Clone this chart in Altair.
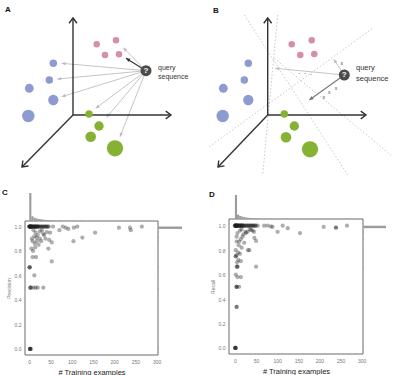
import math
import altair as alt
import pandas as pd

FONT = "Liberation Sans"
PINK, BLUE, GREEN, QUERY = "#d68fa8", "#8d9bd1", "#86b234", "#4b4b4b"

# ---------------- Panel A schematic (panel units, y grows downward) ----------------
A_origin = [73, 115]
A_axis_to_x = [73, 171, 22]
A_axis_to_y = [18, 115, 167]
A_pink_x = [96.7, 116, 105, 119]
A_pink_y = [44.3, 40.3, 55, 54.3]
A_pink_r = [3.7, 3.7, 3.7, 3.7]
A_blue_x = [53.3, 49.3, 29.3, 53.3, 28.3]
A_blue_y = [63.3, 80, 88.3, 100, 116]
A_blue_r = [4.2, 4.2, 5, 5.8, 7]
A_green_x = [89, 99, 90.7, 115]
A_green_y = [114, 126, 136.7, 148.3]
A_green_r = [4.2, 5.3, 6, 9.2]
A_query = [146, 70.7]
A_light_tip_x = [61.7, 57.3, 61.7, 123.3, 95.7, 106.7, 120]
A_light_tip_y = [63.3, 79, 96.7, 47.7, 108.3, 117.3, 136.7]
A_dark_tip_x = [126]
A_dark_tip_y = [58.3]
A_qtext = [158, 68, 76.5]

# ---------------- Panel B schematic ----------------
B_origin = [71.7, 115]
B_axis_to_x = [71.7, 170, 22]
B_axis_to_y = [18, 115, 167]
B_pink_x = [95.7, 115.7, 104.3, 118.3]
B_pink_y = [44.3, 40.3, 55, 54]
B_blue_x = [52.3, 48.3, 27.3, 52.3, 26.7]
B_blue_y = [63.3, 80, 88.3, 100, 116]
B_green_x = [88.3, 98.3, 90, 114]
B_green_y = [114, 126, 137.3, 149.3]
B_query = [148.3, 75]
B_light_tip_x = [79.3, 137.7]
B_light_tip_y = [68.3, 59.3]
B_dark_tip_x = [113.3]
B_dark_tip_y = [100]
B_bound_x1 = [48.3, 81.7, 13.3, 78.3]
B_bound_y1 = [15, 15, 146.7, 58.3]
B_bound_x2 = [151.7, 66.7, 176.7, 196]
B_bound_y2 = [175, 175, 28.3, 156]
B_xmark_x = [145.7, 127.7, 133.3, 140]
B_xmark_y = [63.3, 96.7, 92.3, 88.3]
B_dash_x = [103.3, 109.3, 115]
B_dash_y = [72.7, 73.3, 74]
B_qtext = [160, 68.3, 79]

# ---------------- Panel C scatter (precision) ----------------
C_row_x = [0, 0, 1, 1, 2, 2, 3, 3, 4, 4, 5, 5, 6, 7, 8, 9, 10, 11, 12, 13, 14, 15, 16, 17,
           18, 19, 20, 21, 22, 24, 26, 28, 30, 32, 34, 36, 38, 40, 42, 44, 46]
C_hi_x = [56, 79, 86, 92, 105, 113, 71, 104, 125, 155, 211, 237, 239, 265, 53]
C_hi_y = [1.0, 1.0, 0.99, 0.98, 0.99, 1.0, 0.97, 0.88, 0.91, 0.95, 0.99, 0.99, 0.97, 1.0, 0.715]
C_mid_x = [33, 41, 49, 45, 53, 47, 25, 17, 13, 9, 5, 20, 15, 10, 25, 30, 35, 18, 12, 8, 22, 28, 6, 38, 14]
C_mid_y = [0.94, 0.955, 0.95, 0.82, 0.87, 0.89, 0.90, 0.91, 0.86, 0.80, 0.82, 0.93, 0.95, 0.97, 0.96,
           0.97, 0.93, 0.88, 0.92, 0.88, 0.85, 0.88, 0.90, 0.90, 0.83]
C_low_x = [8, 16, 1, 1, 1, 12, 3, 3, 3, 10, 15, 20, 33, 2, 2, 2, 2, 4]
C_low_y = [0.75, 0.75, 0.667, 0.667, 0.667, 0.60, 0.50, 0.50, 0.50, 0.50, 0.50, 0.50, 0.50,
           0.0, 0.0, 0.0, 0.0, 0.0]
C_top_start = [0, 5, 10, 15, 20, 25, 30, 35, 40, 45, 50, 55, 70, 85, 100, 120, 150, 210, 235, 260]
C_top_count = [100, 17, 12, 9, 7, 6, 5, 4, 3.5, 3, 2.5, 2, 1.5, 1, 1, 1, 1, 1, 1, 1]
C_right_start = [0.0, 0.48, 0.58, 0.66, 0.74, 0.80, 0.86, 0.90, 0.94, 0.98]
C_right_count = [2, 3, 1, 2, 1, 1, 2, 2, 3, 100]

# ---------------- Panel D scatter (recall) ----------------
D_row_x = [0, 0, 1, 1, 2, 2, 3, 3, 4, 4, 5, 5, 6, 7, 8, 9, 10, 11, 12, 13, 14, 15, 16, 17,
           18, 19, 20, 22, 24, 26, 28, 30, 32, 34, 36, 38, 40, 42, 44, 46, 48, 50]
D_hi_x = [54, 69, 77, 85, 89, 101, 113, 125, 154, 210, 239, 239, 265]
D_hi_y = [1.0, 1.0, 1.0, 0.995, 0.99, 0.95, 1.0, 0.98, 0.94, 0.99, 0.985, 0.985, 1.0]
D_mid_x = [50, 46, 38, 30, 34, 42, 45, 35, 26, 31, 4, 4, 9, 10, 14, 18, 6, 20, 25, 12, 16, 22, 8, 12, 16, 2]
D_mid_y = [0.875, 0.90, 0.965, 0.95, 0.80, 0.96, 0.95, 0.97, 0.94, 0.80, 0.91, 0.87, 0.84, 0.87,
           0.89, 0.91, 0.94, 0.93, 0.95, 0.96, 0.97, 0.86, 0.78, 0.77, 0.82, 0.80]
D_low_x = [50, 14, 2, 2, 5, 8, 4, 4, 6, 6, 2, 14, 6, 4, 4, 4, 10, 4, 4, 1, 1, 1, 1, 2]
D_low_y = [0.665, 0.71, 0.75, 0.75, 0.70, 0.72, 0.76, 0.665, 0.665, 0.665, 0.60, 0.58, 0.58,
           0.50, 0.50, 0.50, 0.50, 0.335, 0.335, 0.0, 0.0, 0.0, 0.0, 0.0]
D_top_start = [0, 5, 10, 15, 20, 25, 30, 35, 40, 45, 50, 55, 70, 85, 100, 120, 150, 210, 235, 260]
D_top_count = [100, 18, 13, 10, 8, 6, 5, 4, 3.5, 3, 2.5, 2, 1.5, 1, 1, 1, 1, 1, 1, 1]
D_right_start = [0.0, 0.32, 0.48, 0.58, 0.64, 0.70, 0.74, 0.78, 0.84, 0.88, 0.92, 0.94, 0.98]
D_right_count = [2, 1, 2, 1, 2, 1, 2, 1, 1, 2, 2, 3, 100]

# ---------------- Panel letters (figure units) ----------------
LETTERS = ["A", "B", "C", "D"]
LETTER_X = [5, 213, 2, 209]
LETTER_Y = [10, 11, 193, 195]

HEAD = "M0,0L-0.5,1.1L0.5,1.1Z"
CHEV = "M-0.75,1L0,0L0.75,1"


def heading(dx, dy):
    return (math.degrees(math.atan2(dx, -dy)) + 360.0) % 360.0


def seg_df(x1, y1, x2, y2):
    df = pd.DataFrame({"x": x1, "y": y1, "x2": x2, "y2": y2})
    df["ang"] = [heading(b - a, d - c) for a, b, c, d in zip(df.x, df.x2, df.y, df.y2)]
    return df


def SX(off, f="x"):
    return alt.X(f + ":Q", scale=alt.Scale(domain=[0, 196], range=[off, off + 196], nice=False, zero=False), axis=None)


def SY(f="y"):
    return alt.Y(f + ":Q", scale=alt.Scale(domain=[0, 180], range=[0, 180], nice=False, zero=False), axis=None)


def arrows(df, off, color, width, head_size):
    line = alt.Chart(df).mark_rule(color=color, strokeWidth=width).encode(
        x=SX(off), y=SY(), x2="x2:Q", y2="y2:Q")
    head = alt.Chart(df).mark_point(shape=HEAD, filled=True, color=color, size=head_size,
                                    opacity=1, strokeWidth=0).encode(
        x=SX(off, "x2"), y=SY("y2"), angle=alt.Angle("ang:Q", scale=None))
    return [line, head]


def schematic(off, origin, axx, axy, pink, blue, green, query, light, dark, dark_color,
              qtext, qfont, bounds=None, xmarks=None, dashes=None):
    layers = []
    if bounds is not None:
        layers.append(alt.Chart(seg_df(*bounds)).mark_rule(
            color="#c4b4bb", strokeWidth=0.8, strokeDash=[1.5, 2]).encode(
            x=SX(off), y=SY(), x2="x2:Q", y2="y2:Q"))
    qx, qy = query
    lt = seg_df([qx] * len(light[0]), [qy] * len(light[0]), light[0], light[1])
    layers += arrows(lt, off, "#bdbdbd", 0.9, 50)
    dk = seg_df([qx] * len(dark[0]), [qy] * len(dark[0]), dark[0], dark[1])
    layers += arrows(dk, off, dark_color, 1.1, 55)
    ax = seg_df([origin[0]] * 3, [origin[1]] * 3, axx, axy)
    layers.append(alt.Chart(ax).mark_rule(color="#333333", strokeWidth=1.4).encode(
        x=SX(off), y=SY(), x2="x2:Q", y2="y2:Q"))
    layers.append(alt.Chart(ax).mark_point(shape=CHEV, filled=False, color="#333333", size=110,
                                           opacity=1, strokeWidth=1.4).encode(
        x=SX(off, "x2"), y=SY("y2"), angle=alt.Angle("ang:Q", scale=None)))
    dots = pd.DataFrame({
        "x": pink[0] + blue[0] + green[0],
        "y": pink[1] + blue[1] + green[1],
        "s": [math.pi * r * r for r in pink[2] + blue[2] + green[2]],
        "c": [PINK] * len(pink[0]) + [BLUE] * len(blue[0]) + [GREEN] * len(green[0]),
    })
    layers.append(alt.Chart(dots).mark_circle(opacity=1).encode(
        x=SX(off), y=SY(), size=alt.Size("s:Q", scale=None, legend=None),
        color=alt.Color("c:N", scale=None, legend=None)))
    q = pd.DataFrame({"x": [qx], "y": [qy], "t": ["?"]})
    layers.append(alt.Chart(q).mark_circle(opacity=1, color=QUERY, size=math.pi * 6.2 ** 2).encode(
        x=SX(off), y=SY()))
    layers.append(alt.Chart(q).mark_text(font=FONT, fontSize=8, fontWeight="bold", color="white",
                                         baseline="middle", align="center").encode(
        x=SX(off), y=SY(), text="t:N"))
    qt = pd.DataFrame({"x": [qtext[0], qtext[0]], "y": [qtext[1], qtext[2]], "t": ["query", "sequence"]})
    layers.append(alt.Chart(qt).mark_text(font=FONT, fontSize=qfont, color="#333333",
                                          baseline="middle", align="left").encode(
        x=SX(off), y=SY(), text="t:N"))
    if xmarks is not None:
        xm = pd.DataFrame({"x": xmarks[0], "y": xmarks[1], "t": ["x"] * len(xmarks[0])})
        layers.append(alt.Chart(xm).mark_text(font=FONT, fontSize=5, color="#444444",
                                              baseline="middle", align="center").encode(
            x=SX(off), y=SY(), text="t:N"))
    if dashes is not None:
        dm = pd.DataFrame({"x": dashes[0], "y": dashes[1], "t": ["-"] * len(dashes[0])})
        layers.append(alt.Chart(dm).mark_text(font=FONT, fontSize=6, color="#444444",
                                              baseline="middle", align="center").encode(
            x=SX(off), y=SY(), text="t:N"))
    return layers


def scatter_panel(row_x, groups, top, right, xs, ys, topy, rx, yoff, xoff, ytitle):
    xs_sc = alt.Scale(domain=xs[0], range=xs[1], nice=False, zero=False)
    ys_sc = alt.Scale(domain=ys[0], range=ys[1], nice=False, zero=False)
    px = list(row_x)
    py = [1.0] * len(row_x)
    for gx, gy in groups:
        px += gx
        py += gy
    pts = pd.DataFrame({"x": px, "y": py})
    layers = []
    frame = pd.DataFrame({"x": [xs[0][0]], "x2": [xs[0][1]], "y": [ys[0][0]], "y2": [ys[0][1]]})
    layers.append(alt.Chart(frame).mark_rect(filled=False, stroke="#6a6a6a", strokeWidth=1).encode(
        x=alt.X("x:Q", scale=xs_sc, axis=None), x2="x2:Q",
        y=alt.Y("y:Q", scale=ys_sc, axis=None), y2="y2:Q"))
    th = pd.DataFrame({"x": top[0], "x2": [v + 5 for v in top[0]], "c": top[1], "z": [0] * len(top[0])})
    layers.append(alt.Chart(th).mark_rect(color="#9c9c9c").encode(
        x=alt.X("x:Q", scale=xs_sc, axis=None), x2="x2:Q",
        y=alt.Y("c:Q", scale=alt.Scale(domain=[0, 100], range=topy, nice=False, zero=False), axis=None),
        y2="z:Q"))
    rh = pd.DataFrame({"y": right[0], "y2": [v + 0.02 for v in right[0]], "c": right[1], "z": [0] * len(right[0])})
    layers.append(alt.Chart(rh).mark_rect(color="#9c9c9c").encode(
        y=alt.Y("y:Q", scale=ys_sc, axis=None), y2="y2:Q",
        x=alt.X("c:Q", scale=alt.Scale(domain=[0, 100], range=rx, nice=False, zero=False), axis=None),
        x2="z:Q"))
    layers.append(alt.Chart(pts).mark_circle(size=18, color="#1e1e1e", opacity=0.36).encode(
        x=alt.X("x:Q", scale=xs_sc, axis=alt.Axis(
            orient="bottom", offset=xoff, values=[0, 50, 100, 150, 200, 250, 300], format="d",
            ticks=False, domain=False, grid=False, labelFont=FONT, labelFontSize=5, labelColor="#777777",
            labelPadding=4, title="# Training examples", titleFont=FONT, titleFontSize=7.5,
            titleFontWeight="normal", titleColor="#222222", titlePadding=4)),
        y=alt.Y("y:Q", scale=ys_sc, axis=alt.Axis(
            orient="left", offset=yoff, values=[0.0, 0.2, 0.4, 0.6, 0.8, 1.0], format=".1f",
            ticks=False, domain=False, grid=False, labelFont=FONT, labelFontSize=5, labelColor="#777777",
            labelPadding=4, title=ytitle, titleFont=FONT, titleFontSize=5, titleFontWeight="normal",
            titleColor="#777777", titlePadding=3))))
    return layers


layers = []
layers += schematic(0, A_origin, A_axis_to_x, A_axis_to_y,
                    (A_pink_x, A_pink_y, A_pink_r), (A_blue_x, A_blue_y, A_blue_r),
                    (A_green_x, A_green_y, A_green_r), A_query,
                    (A_light_tip_x, A_light_tip_y), (A_dark_tip_x, A_dark_tip_y), "#333333",
                    A_qtext, 7)
layers += schematic(196, B_origin, B_axis_to_x, B_axis_to_y,
                    (B_pink_x, B_pink_y, A_pink_r), (B_blue_x, B_blue_y, A_blue_r),
                    (B_green_x, B_green_y, A_green_r), B_query,
                    (B_light_tip_x, B_light_tip_y), (B_dark_tip_x, B_dark_tip_y), "#777777",
                    B_qtext, 7.5,
                    bounds=(B_bound_x1, B_bound_y1, B_bound_x2, B_bound_y2),
                    xmarks=(B_xmark_x, B_xmark_y), dashes=(B_dash_x, B_dash_y))
layers += scatter_panel(C_row_x, [(C_hi_x, C_hi_y), (C_mid_x, C_mid_y), (C_low_x, C_low_y)],
                        (C_top_start, C_top_count), (C_right_start, C_right_count),
                        ([-10, 303], [25, 158]), ([-0.05, 1.045], [355, 221]),
                        [221, 193], [158, 182], -25, -20, "Precision")
layers += scatter_panel(D_row_x, [(D_hi_x, D_hi_y), (D_mid_x, D_mid_y), (D_low_x, D_low_y)],
                        (D_top_start, D_top_count), (D_right_start, D_right_count),
                        ([-14, 303], [229, 363]), ([-0.05, 1.055], [354, 219]),
                        [219, 195], [363, 386], -229, -21, "Recall")

lab = pd.DataFrame({"x": LETTER_X, "y": LETTER_Y, "t": LETTERS})
layers.append(alt.Chart(lab).mark_text(font=FONT, fontSize=8, fontWeight="bold", color="#111111",
                                       baseline="middle", align="left").encode(
    x=alt.X("x:Q", scale=alt.Scale(domain=[0, 396], range=[0, 396], nice=False, zero=False), axis=None),
    y=alt.Y("y:Q", scale=alt.Scale(domain=[0, 375], range=[0, 375], nice=False, zero=False), axis=None),
    text="t:N"))

chart = alt.layer(*layers).resolve_scale(x="independent", y="independent").properties(
    width=396, height=375, autosize=alt.AutoSizeParams(type="none"), padding=0,
    background="white").configure_view(stroke=None)

chart.save("out.html", embed_options={"renderer": "svg", "actions": False})
